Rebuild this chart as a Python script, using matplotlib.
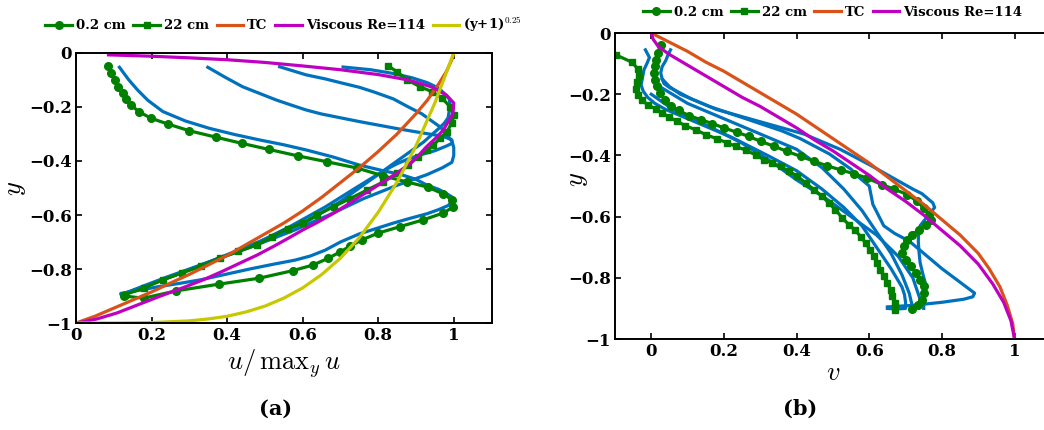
import matplotlib
matplotlib.use("Agg")
import matplotlib.pyplot as plt

# Velocity profiles: (a) normalised u, (b) v.

# ---- panel (a) ----
a_circ_u = [0.086, 0.093, 0.102, 0.110, 0.124, 0.132, 0.146, 0.166, 0.199, 0.243, 0.300, 0.371,
            0.440, 0.510, 0.587, 0.665, 0.744, 0.813, 0.877, 0.932, 0.972, 0.996, 0.999, 0.972,
            0.919, 0.858, 0.800, 0.757, 0.726, 0.699, 0.668, 0.628, 0.574, 0.485, 0.379, 0.265,
            0.179, 0.127]
a_circ_y = [-0.048, -0.075, -0.100, -0.125, -0.149, -0.172, -0.193, -0.217, -0.242, -0.263, -0.288, -0.312,
            -0.335, -0.357, -0.381, -0.403, -0.426, -0.455, -0.478, -0.497, -0.522, -0.544, -0.570, -0.593,
            -0.618, -0.643, -0.667, -0.692, -0.715, -0.737, -0.760, -0.785, -0.806, -0.834, -0.856, -0.881,
            -0.908, -0.900]

a_sq_u = [0.827, 0.850, 0.877, 0.911, 0.942, 0.969, 0.990, 1.000, 0.995, 0.982, 0.964, 0.946,
          0.929, 0.906, 0.880, 0.850, 0.814, 0.770, 0.726, 0.682, 0.638, 0.600, 0.560, 0.520,
          0.480, 0.430, 0.380, 0.330, 0.280, 0.230, 0.180, 0.130]
a_sq_y = [-0.048, -0.070, -0.100, -0.125, -0.143, -0.167, -0.199, -0.230, -0.259, -0.291, -0.316, -0.341,
          -0.360, -0.385, -0.415, -0.446, -0.477, -0.508, -0.539, -0.569, -0.600, -0.630, -0.650, -0.680,
          -0.710, -0.735, -0.760, -0.790, -0.815, -0.840, -0.870, -0.895]

a_tc_u = [0.0, 0.05, 0.10, 0.15, 0.20, 0.25, 0.30, 0.35, 0.40, 0.45, 0.50, 0.55, 0.60, 0.65, 0.70,
          0.75, 0.80, 0.85, 0.90, 0.93, 0.96, 0.98, 0.995, 1.0]
a_tc_y = [-1.0, -0.975, -0.945, -0.915, -0.885, -0.852, -0.820, -0.785, -0.750, -0.710, -0.670, -0.630,
          -0.585, -0.535, -0.480, -0.425, -0.365, -0.300, -0.225, -0.175, -0.115, -0.070, -0.025, 0.0]

a_visc_u = [0.086, 0.200, 0.300, 0.400, 0.500, 0.600, 0.700, 0.800, 0.880, 0.940, 0.980, 1.000, 0.998,
            0.985, 0.972, 0.952, 0.928, 0.908, 0.884, 0.855, 0.822, 0.787, 0.751, 0.717, 0.681, 0.642,
            0.601, 0.562, 0.522, 0.480, 0.434, 0.387, 0.337, 0.280, 0.222, 0.165, 0.108, 0.055, 0.011, 0.0]
a_visc_y = [-0.007, -0.012, -0.018, -0.025, -0.035, -0.048, -0.062, -0.080, -0.100, -0.125, -0.155, -0.185,
            -0.224, -0.255, -0.286, -0.316, -0.347, -0.378, -0.409, -0.440, -0.470, -0.501, -0.532, -0.563,
            -0.594, -0.625, -0.655, -0.686, -0.717, -0.748, -0.778, -0.809, -0.840, -0.871, -0.901, -0.932,
            -0.963, -0.985, -0.998, -1.0]

a_pow_u = [0.0, 0.10, 0.20, 0.30, 0.35, 0.40, 0.45, 0.50, 0.55, 0.60, 0.65, 0.70, 0.75, 0.80, 0.85,
           0.90, 0.95, 1.0]
a_pow_y = [-1.0, -1.0, -0.9985, -0.992, -0.985, -0.975, -0.959, -0.9375, -0.908, -0.870, -0.821, -0.760,
           -0.684, -0.590, -0.478, -0.344, -0.185, 0.0]

a_blue = [
    ([0.115, 0.140, 0.163, 0.190, 0.230, 0.290, 0.353, 0.420, 0.486, 0.550, 0.609, 0.680, 0.750, 0.810,
      0.860, 0.900, 0.930, 0.960, 0.980, 0.995, 1.000, 0.985, 0.960, 0.930, 0.885, 0.840, 0.795, 0.750,
      0.700, 0.660, 0.620, 0.580, 0.520, 0.460, 0.395, 0.330, 0.275, 0.220, 0.170, 0.120],
     [-0.053, -0.100, -0.137, -0.175, -0.217, -0.252, -0.279, -0.302, -0.322, -0.340, -0.359, -0.385, -0.415,
      -0.435, -0.450, -0.468, -0.490, -0.505, -0.520, -0.533, -0.545, -0.565, -0.580, -0.595, -0.612, -0.630,
      -0.650, -0.670, -0.700, -0.730, -0.752, -0.767, -0.783, -0.800, -0.820, -0.840, -0.853, -0.865,
      -0.878, -0.890]),
    ([0.349, 0.395, 0.441, 0.490, 0.530, 0.570, 0.609, 0.650, 0.700, 0.750, 0.800, 0.850, 0.900, 0.935,
      0.960, 0.980, 0.995, 0.995, 0.980, 0.950, 0.915, 0.880, 0.850, 0.820, 0.790, 0.760, 0.730, 0.700,
      0.655, 0.610, 0.555, 0.500, 0.425, 0.350, 0.290, 0.230, 0.175, 0.120],
     [-0.053, -0.090, -0.125, -0.152, -0.174, -0.193, -0.211, -0.226, -0.240, -0.254, -0.267, -0.280, -0.292,
      -0.300, -0.306, -0.313, -0.322, -0.335, -0.345, -0.362, -0.376, -0.392, -0.410, -0.432, -0.460,
      -0.490, -0.520, -0.550, -0.588, -0.625, -0.658, -0.690, -0.733, -0.775, -0.808, -0.840, -0.868, -0.895]),
    ([0.539, 0.609, 0.660, 0.700, 0.750, 0.790, 0.840, 0.880, 0.915, 0.940, 0.965, 0.980, 0.995, 1.000,
      1.000, 0.995, 0.970, 0.930, 0.890, 0.850, 0.805, 0.760, 0.715, 0.670, 0.625, 0.580, 0.525, 0.470,
      0.410, 0.350, 0.290, 0.230, 0.175, 0.120],
     [-0.051, -0.081, -0.096, -0.110, -0.127, -0.145, -0.170, -0.200, -0.225, -0.250, -0.275, -0.300, -0.325,
      -0.350, -0.380, -0.405, -0.425, -0.450, -0.470, -0.490, -0.515, -0.540, -0.570, -0.600, -0.627, -0.655,
      -0.685, -0.715, -0.745, -0.775, -0.808, -0.840, -0.868, -0.895]),
    ([0.707, 0.780, 0.840, 0.890, 0.930, 0.960, 0.975, 0.988, 0.990, 0.988, 0.985, 0.975, 0.960, 0.940,
      0.920, 0.895, 0.870, 0.840, 0.810, 0.775, 0.740, 0.700, 0.660, 0.615, 0.570, 0.520, 0.470, 0.415,
      0.360, 0.300, 0.240, 0.180, 0.120],
     [-0.052, -0.062, -0.076, -0.092, -0.110, -0.130, -0.150, -0.170, -0.190, -0.215, -0.240, -0.260, -0.280,
      -0.305, -0.330, -0.355, -0.380, -0.410, -0.440, -0.470, -0.500, -0.535, -0.570, -0.605, -0.640, -0.675,
      -0.710, -0.740, -0.770, -0.800, -0.830, -0.862, -0.895]),
]

# ---- panel (b) ----
b_circ_v = [0.026, 0.018, 0.012, 0.009, 0.007, 0.009, 0.015, 0.024, 0.037, 0.053, 0.076, 0.104,
            0.136, 0.168, 0.200, 0.237, 0.269, 0.301, 0.338, 0.374, 0.411, 0.448, 0.484, 0.521,
            0.558, 0.594, 0.636, 0.668, 0.705, 0.732, 0.750, 0.764, 0.769, 0.755, 0.737, 0.718,
            0.705, 0.695, 0.691, 0.700, 0.714, 0.728, 0.741, 0.750, 0.752, 0.746, 0.734, 0.718]
b_circ_y = [-0.038, -0.065, -0.087, -0.109, -0.131, -0.153, -0.174, -0.196, -0.218, -0.237, -0.253, -0.270,
            -0.283, -0.296, -0.310, -0.325, -0.338, -0.354, -0.370, -0.387, -0.403, -0.419, -0.434, -0.447,
            -0.460, -0.474, -0.496, -0.510, -0.528, -0.550, -0.572, -0.594, -0.610, -0.626, -0.643, -0.659,
            -0.675, -0.697, -0.719, -0.741, -0.763, -0.784, -0.806, -0.828, -0.850, -0.871, -0.888, -0.902]

b_sq_v = [-0.098, -0.052, -0.037, -0.034, -0.040, -0.042, -0.037, -0.025, -0.009, 0.012, 0.030, 0.049,
          0.072, 0.094, 0.122, 0.150, 0.182, 0.209, 0.232, 0.260, 0.287, 0.310, 0.333, 0.356,
          0.379, 0.402, 0.425, 0.448, 0.471, 0.489, 0.507, 0.526, 0.544, 0.562, 0.576, 0.590,
          0.602, 0.613, 0.622, 0.631, 0.640, 0.650, 0.659, 0.664, 0.670, 0.672]
b_sq_y = [-0.071, -0.096, -0.118, -0.139, -0.161, -0.183, -0.203, -0.220, -0.235, -0.248, -0.261, -0.275,
          -0.289, -0.303, -0.316, -0.332, -0.346, -0.359, -0.370, -0.383, -0.398, -0.414, -0.425, -0.436,
          -0.452, -0.468, -0.490, -0.512, -0.534, -0.556, -0.577, -0.605, -0.626, -0.645, -0.665, -0.686,
          -0.708, -0.730, -0.752, -0.773, -0.795, -0.817, -0.839, -0.861, -0.882, -0.904]

b_tc_v = [0.0, 0.05, 0.10, 0.15, 0.20, 0.25, 0.30, 0.35, 0.40, 0.45, 0.50, 0.55, 0.60, 0.65, 0.70,
          0.75, 0.80, 0.85, 0.90, 0.93, 0.96, 0.98, 0.995, 1.0]
b_tc_y = [0.0, -0.030, -0.060, -0.095, -0.125, -0.160, -0.195, -0.230, -0.265, -0.305, -0.345, -0.385,
          -0.425, -0.470, -0.515, -0.560, -0.610, -0.660, -0.720, -0.770, -0.830, -0.890, -0.950, -1.0]

b_visc_v = [0.0, 0.005, 0.02, 0.05, 0.10, 0.15, 0.20, 0.25, 0.30, 0.35, 0.40, 0.45, 0.50, 0.55, 0.60,
            0.65, 0.70, 0.75, 0.80, 0.85, 0.90, 0.94, 0.97, 0.99, 1.0]
b_visc_y = [0.0, -0.020, -0.045, -0.070, -0.105, -0.140, -0.175, -0.210, -0.240, -0.275, -0.310, -0.350,
            -0.385, -0.425, -0.465, -0.510, -0.550, -0.595, -0.645, -0.695, -0.755, -0.820, -0.880, -0.940, -1.0]

b_blue = [
    ([-0.016, -0.005, -0.012, -0.020, -0.028, -0.022, -0.010, 0.010, 0.040, 0.080, 0.120, 0.170, 0.220,
      0.270, 0.320, 0.360, 0.400, 0.435, 0.470, 0.500, 0.530, 0.555, 0.580, 0.600, 0.620, 0.640, 0.660,
      0.675, 0.690, 0.697, 0.700, 0.700, 0.675, 0.650],
     [-0.055, -0.080, -0.100, -0.120, -0.170, -0.190, -0.210, -0.230, -0.250, -0.270, -0.290, -0.315, -0.340,
      -0.370, -0.400, -0.425, -0.450, -0.480, -0.510, -0.540, -0.570, -0.600, -0.630, -0.665, -0.700, -0.735,
      -0.770, -0.800, -0.830, -0.855, -0.880, -0.900, -0.902, -0.900]),
    ([0.053, 0.046, 0.040, 0.030, 0.026, 0.030, 0.035, 0.050, 0.070, 0.110, 0.160, 0.210, 0.260, 0.310,
      0.360, 0.410, 0.450, 0.490, 0.520, 0.550, 0.570, 0.590, 0.600, 0.605, 0.610, 0.625, 0.640, 0.670,
      0.710, 0.755, 0.800, 0.845, 0.890, 0.885, 0.860, 0.800, 0.760, 0.720, 0.650],
     [-0.055, -0.072, -0.090, -0.110, -0.130, -0.150, -0.165, -0.178, -0.190, -0.215, -0.240, -0.260, -0.280,
      -0.300, -0.320, -0.345, -0.370, -0.395, -0.420, -0.445, -0.470, -0.490, -0.500, -0.530, -0.560, -0.595,
      -0.630, -0.655, -0.680, -0.725, -0.770, -0.810, -0.850, -0.862, -0.870, -0.880, -0.885, -0.890, -0.895]),
    ([0.030, 0.050, 0.080, 0.130, 0.180, 0.240, 0.300, 0.360, 0.420, 0.470, 0.520, 0.560, 0.600, 0.630,
      0.660, 0.690, 0.720, 0.745, 0.760, 0.775, 0.780, 0.770, 0.760, 0.750, 0.740, 0.736, 0.735, 0.737,
      0.740, 0.747, 0.755, 0.752, 0.750, 0.750],
     [-0.150, -0.175, -0.200, -0.225, -0.250, -0.270, -0.290, -0.310, -0.330, -0.355, -0.380, -0.405, -0.430,
      -0.450, -0.470, -0.490, -0.510, -0.525, -0.540, -0.555, -0.570, -0.585, -0.600, -0.615, -0.630, -0.655,
      -0.680, -0.715, -0.750, -0.785, -0.820, -0.845, -0.870, -0.900]),
    ([0.030, 0.065, 0.100, 0.150, 0.200, 0.250, 0.300, 0.350, 0.400, 0.435, 0.470, 0.500, 0.530, 0.555,
      0.580, 0.600, 0.620, 0.640, 0.660, 0.675, 0.690, 0.700, 0.710, 0.715, 0.720],
     [-0.180, -0.205, -0.230, -0.255, -0.280, -0.305, -0.330, -0.355, -0.380, -0.410, -0.440, -0.475, -0.510,
      -0.545, -0.580, -0.615, -0.650, -0.685, -0.720, -0.755, -0.790, -0.820, -0.850, -0.875, -0.900]),
    ([0.000, 0.030, 0.060, 0.100, 0.150, 0.200, 0.250, 0.290, 0.330, 0.365, 0.400, 0.440, 0.480, 0.515,
      0.550, 0.585, 0.620, 0.650, 0.680, 0.700, 0.720, 0.730, 0.740],
     [-0.200, -0.225, -0.250, -0.275, -0.300, -0.330, -0.360, -0.390, -0.420, -0.450, -0.480, -0.510, -0.540,
      -0.570, -0.600, -0.630, -0.660, -0.695, -0.730, -0.765, -0.800, -0.835, -0.870]),
]

# colours (MATLAB-ish)
GREEN = "#008000"
BLUE = "#0072BD"
ORANGE = "#D95319"
MAGENTA = "#C000C0"
YELLOW = "#C8C800"
LW = 2.3

plt.rcParams["mathtext.fontset"] = "cm"
plt.rcParams["font.family"] = "DejaVu Serif"
plt.rcParams["font.weight"] = "bold"

fig = plt.figure(figsize=(10.44, 4.3), dpi=100)
ax_a = fig.add_axes([0.0728, 0.2488, 0.398, 0.628])
ax_b = fig.add_axes([0.589, 0.2116, 0.4176, 0.7116])


def style_axes(ax, xlim, xticks, xlabels):
    ax.set_xlim(*xlim)
    ax.set_ylim(-1, 0)
    ax.set_xticks(xticks)
    ax.set_xticklabels(xlabels)
    ax.set_yticks([0, -0.2, -0.4, -0.6, -0.8, -1])
    ax.set_yticklabels(["0", "\u22120.2", "\u22120.4", "\u22120.6", "\u22120.8", "\u22121"])
    ax.tick_params(direction="in", top=True, right=True, length=4, width=1.2,
                   labelsize=12, pad=3)
    for lab in ax.get_xticklabels() + ax.get_yticklabels():
        lab.set_fontweight("bold")
    for sp in ax.spines.values():
        sp.set_linewidth(1.4)


# panel (a)
for u, y in a_blue:
    ax_a.plot(u, y, color=BLUE, lw=LW)
ax_a.plot(a_circ_u, a_circ_y, color=GREEN, lw=LW, marker="o", ms=5.5, label="0.2 cm")
ax_a.plot(a_sq_u, a_sq_y, color=GREEN, lw=LW, marker="s", ms=5, label="22 cm")
ax_a.plot(a_tc_u, a_tc_y, color=ORANGE, lw=LW, label="TC")
ax_a.plot(a_visc_u, a_visc_y, color=MAGENTA, lw=LW, label="Viscous Re=114")
ax_a.plot(a_pow_u, a_pow_y, color=YELLOW, lw=LW, label="(y+1)$^{\\mathbf{0.25}}$")
style_axes(ax_a, (0, 1.1), [0, 0.2, 0.4, 0.6, 0.8, 1], ["0", "0.2", "0.4", "0.6", "0.8", "1"])
ax_a.set_xlabel(r"$u/\,\mathrm{max}_y\, u$", fontsize=19, labelpad=2)
ax_a.set_ylabel(r"$y$", fontsize=19)
ax_a.yaxis.set_label_coords(-0.115, 0.5)
ax_a.legend(loc="lower center", bbox_to_anchor=(0.5, 1.04), ncol=5, frameon=False,
            prop={"weight": "bold", "size": 9.5}, handlelength=2.0, handletextpad=0.3,
            columnspacing=0.6, borderaxespad=0.2)

# panel (b)
for v, y in b_blue:
    ax_b.plot(v, y, color=BLUE, lw=LW)
ax_b.plot(b_circ_v, b_circ_y, color=GREEN, lw=LW, marker="o", ms=5.5, label="0.2 cm")
ax_b.plot(b_sq_v, b_sq_y, color=GREEN, lw=LW, marker="s", ms=5, label="22 cm")
ax_b.plot(b_tc_v, b_tc_y, color=ORANGE, lw=LW, label="TC")
ax_b.plot(b_visc_v, b_visc_y, color=MAGENTA, lw=LW, label="Viscous Re=114")
style_axes(ax_b, (-0.1, 1.1), [0, 0.2, 0.4, 0.6, 0.8, 1], ["0", "0.2", "0.4", "0.6", "0.8", "1"])
ax_b.set_xlabel(r"$v$", fontsize=19, labelpad=0)
ax_b.set_ylabel(r"$y$", fontsize=19)
ax_b.yaxis.set_label_coords(-0.058, 0.52)
ax_b.legend(loc="lower center", bbox_to_anchor=(0.5, 1.025), ncol=4, frameon=False,
            prop={"weight": "bold", "size": 9.5}, handlelength=2.0, handletextpad=0.3,
            columnspacing=0.6, borderaxespad=0.1)

# sub-figure captions
fig.text(0.264, 0.05, "(a)", ha="center", va="center", fontsize=15, fontweight="bold")
fig.text(0.766, 0.05, "(b)", ha="center", va="center", fontsize=15, fontweight="bold")

fig.savefig("out.png", dpi=100)
